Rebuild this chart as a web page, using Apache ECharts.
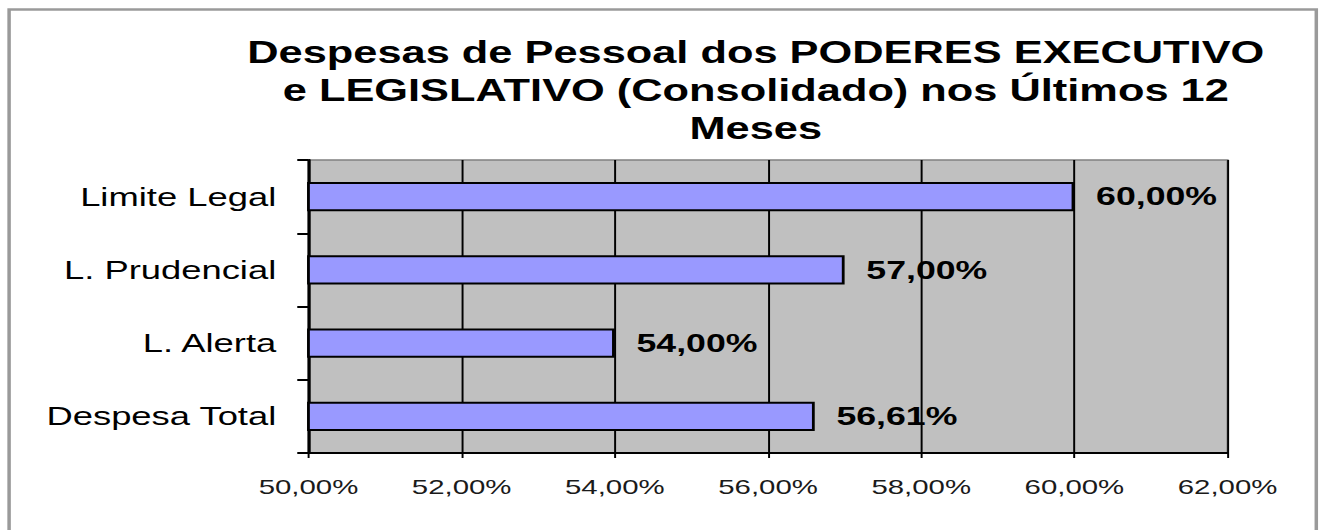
<!DOCTYPE html>
<html>
<head>
<meta charset="utf-8">
<script src="https://cdn.jsdelivr.net/npm/echarts@6/dist/echarts.min.js"></script>
<style>
  html, body { margin: 0; padding: 0; background: #fff; overflow: hidden; }
  /* the reference is stretched sideways, so draw narrower and widen */
  #chart {
    width: 946px;
    height: 530px;
    transform: scaleX(1.39958);
    transform-origin: 0 0;
  }
</style>
</head>
<body>
<div id="chart"></div>
<script>
const titleLines = [
  'Despesas de Pessoal dos PODERES EXECUTIVO',
  'e LEGISLATIVO (Consolidado) nos Últimos 12',
  'Meses'
];
const categories = ['Limite Legal', 'L. Prudencial', 'L. Alerta', 'Despesa Total'];
const percentValues = [60.0, 57.0, 54.0, 56.61];
const axisMin = 50;
const axisMax = 62;
const axisStep = 2;

const fmtPct = (v) => v.toFixed(2).replace('.', ',') + '%';
const FONT = '"Liberation Sans", Arial, sans-serif';

const chart = echarts.init(document.getElementById('chart'), null, { renderer: 'svg' });

const option = {
  backgroundColor: '#ffffff',
  animation: false,
  title: {
    text: titleLines.join('\n'),
    left: 540,
    top: 33,
    padding: 0,
    textAlign: 'center',
    textStyle: {
      fontFamily: FONT,
      fontSize: 31,
      fontWeight: 'bold',
      color: '#000',
      lineHeight: 38,
    },
  },
  graphic: [
    {
      type: 'rect',
      silent: true,
      z: -1,
      shape: { x: 6.5, y: 9.5, width: 934, height: 600 },
      style: { fill: 'none', stroke: '#9a9a9a', lineWidth: 2.5 },
    },
  ],
  grid: {
    left: 220.4,
    right: 68.9,
    top: 160,
    bottom: 77,
    show: true,
    backgroundColor: '#C0C0C0',
    borderColor: '#808080',
    borderWidth: 1.5,
  },
  xAxis: {
    type: 'value',
    min: axisMin,
    max: axisMax,
    interval: axisStep,
    axisLine: { show: true, lineStyle: { color: '#000', width: 2 } },
    axisTick: { show: true, length: 5, lineStyle: { color: '#000', width: 1.4 } },
    axisLabel: {
      margin: 23,
      fontFamily: FONT,
      fontSize: 21,
      color: '#1a1a1a',
      formatter: (v) => fmtPct(v),
    },
    splitLine: { show: true, lineStyle: { color: '#000', width: 1.4 } },
  },
  yAxis: {
    type: 'category',
    inverse: true,
    data: categories,
    axisLine: { show: true, lineStyle: { color: '#000', width: 2 } },
    axisTick: { show: true, length: 8, lineStyle: { color: '#000', width: 2 } },
    axisLabel: {
      margin: 23,
      fontFamily: FONT,
      fontSize: 26,
      color: '#000',
    },
    splitLine: { show: false },
  },
  series: [
    {
      type: 'bar',
      data: percentValues,
      barWidth: '40%',
      itemStyle: {
        color: '#9999FF',
        borderColor: '#000',
        borderWidth: 2,
      },
      label: {
        show: true,
        position: 'right',
        distance: 15.5,
        fontFamily: FONT,
        fontSize: 25.5,
        fontWeight: 'bold',
        color: '#000',
        formatter: (p) => fmtPct(p.value),
      },
    },
  ],
};

chart.setOption(option);
</script>
</body>
</html>
